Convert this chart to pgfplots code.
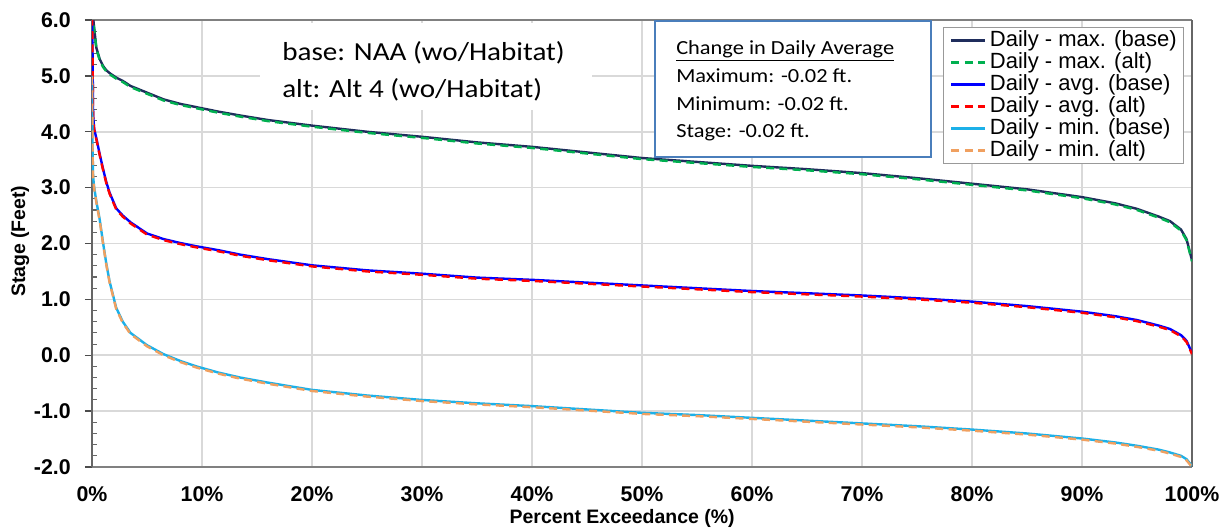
\documentclass[border=0pt]{standalone}
\usepackage{pgfplots}
\pgfplotsset{compat=1.18}
\usepackage{pgfplotstable}
\usepackage{fontspec}
\setmainfont{Liberation Sans}
\newfontfamily\calfont[FakeStretch=1.12]{Carlito}

\definecolor{maxb}{HTML}{1F2D5C}
\definecolor{maxa}{HTML}{00B050}
\definecolor{avgb}{HTML}{0000FF}
\definecolor{avga}{HTML}{FF0000}
\definecolor{minb}{HTML}{1CB0E8}
\definecolor{mina}{HTML}{F0A060}
\definecolor{boxblue}{HTML}{4A7EBB}

\pgfplotstableread{
x maxb maxa avgb avga minb mina
0 6.40 6.38 6.30 6.28 5.00 4.98
0.05 6.20 6.18 5.40 5.38 3.70 3.68
0.1 6.05 6.03 4.30 4.28 3.20 3.18
0.2 5.85 5.83 4.05 4.03 3.00 2.98
0.4 5.50 5.48 3.88 3.86 2.75 2.73
0.7 5.30 5.28 3.60 3.58 2.43 2.41
1.0 5.18 5.16 3.34 3.32 2.02 2.00
1.3 5.10 5.08 3.10 3.08 1.64 1.62
1.6 5.05 5.03 2.91 2.89 1.32 1.30
2.2 4.97 4.95 2.63 2.61 0.85 0.83
2.8 4.91 4.89 2.50 2.48 0.60 0.58
3.5 4.82 4.80 2.38 2.36 0.40 0.38
5 4.70 4.68 2.18 2.16 0.18 0.16
6.5 4.58 4.56 2.08 2.06 0.02 0.00
8 4.50 4.48 2.01 1.99 -0.10 -0.12
9.5 4.44 4.42 1.95 1.93 -0.20 -0.22
11.5 4.36 4.34 1.88 1.86 -0.31 -0.33
13.5 4.29 4.27 1.80 1.78 -0.40 -0.42
16 4.21 4.19 1.72 1.70 -0.49 -0.51
20 4.11 4.09 1.61 1.59 -0.62 -0.64
25 4.00 3.98 1.52 1.50 -0.72 -0.74
30 3.91 3.89 1.46 1.44 -0.80 -0.82
35 3.81 3.79 1.39 1.37 -0.86 -0.88
40 3.73 3.71 1.35 1.33 -0.91 -0.93
45 3.63 3.61 1.30 1.28 -0.97 -0.99
50 3.53 3.51 1.25 1.23 -1.03 -1.05
55 3.46 3.44 1.20 1.18 -1.07 -1.09
60 3.39 3.37 1.15 1.13 -1.12 -1.14
65 3.33 3.31 1.11 1.09 -1.17 -1.19
70 3.26 3.24 1.07 1.05 -1.22 -1.24
75 3.17 3.15 1.02 1.00 -1.27 -1.29
80 3.07 3.05 0.96 0.94 -1.33 -1.35
85 2.97 2.95 0.88 0.86 -1.40 -1.42
90 2.83 2.81 0.78 0.76 -1.49 -1.51
93 2.72 2.70 0.70 0.68 -1.56 -1.58
95 2.62 2.60 0.63 0.61 -1.62 -1.64
97 2.48 2.46 0.53 0.51 -1.69 -1.71
98 2.40 2.38 0.47 0.45 -1.74 -1.76
99 2.25 2.23 0.36 0.34 -1.80 -1.82
99.5 2.08 2.06 0.26 0.24 -1.86 -1.88
100 1.70 1.68 0.04 0.02 -1.98 -2.00
}\data

\begin{document}
\begin{tikzpicture}
\begin{axis}[
  at={(0,0)}, anchor=south west,
  scale only axis, width=825pt, height=335.25pt,
  xmin=0, xmax=100, ymin=-2, ymax=6,
  xtick={0,10,...,100},
  xticklabels={0\%,10\%,20\%,30\%,40\%,50\%,60\%,70\%,80\%,90\%,100\%},
  ytick={-2,-1,...,6},
  yticklabels={-2.0,-1.0,0.0,1.0,2.0,3.0,4.0,5.0,6.0},
  minor y tick num=4,
  grid=major,
  major grid style={draw=black!15, line width=1.2pt},
  separate axis lines,
  x axis line style={draw=black!50, line width=1.8pt},
  y axis line style={draw=black!60, line width=1.5pt},
  tick align=inside, ytick pos=left, xtick pos=bottom,
  xtick style={draw=none},
  major tick length=5.25pt, minor tick length=3.75pt,
  major y tick style={xshift=-5.25pt, draw=black!70, line width=1pt},
  minor y tick style={draw=black!60, line width=0.8pt},
  tick label style={font=\fontsize{16}{16}\selectfont\bfseries},
  yticklabel style={inner sep=0pt, anchor=east, xshift=-15.75pt},
  xticklabel style={inner sep=0pt, anchor=north, yshift=-14.8pt},
  xlabel={Percent Exceedance (\%)},
  ylabel={Stage (Feet)},
  label style={font=\fontsize{14.6}{14.6}\selectfont\bfseries},
  xlabel style={at={(axis description cs:0.482,0)}, anchor=base, yshift=-42pt},
  ylabel style={at={(axis description cs:-0.0609,0.505)}, anchor=base},
  no markers,
  legend style={at={(axis description cs:0.7736,0.9843)}, anchor=north west,
    draw=black!40, line width=0.9pt, fill=white,
    inner xsep=5pt, inner ysep=1.5pt,
    font=\fontsize{16.5}{16.5}\selectfont,
    nodes={inner sep=0pt, text height=12.5pt, text depth=4pt},
    row sep=0pt},
  legend cell align=left,
  legend image code/.code={\draw[#1] (0pt,0pt) -- (25pt,0pt); \path (28pt,0pt);},
]
\addplot[maxb, line width=1.8pt] table[x=x,y=maxb]{\data};
\addlegendentry{Daily - max. (base)}
\addplot[maxa, line width=1.8pt, dash pattern=on 6pt off 4pt] table[x=x,y=maxa]{\data};
\addlegendentry{Daily - max. (alt)}
\addplot[avgb, line width=1.8pt] table[x=x,y=avgb]{\data};
\addlegendentry{Daily - avg. (base)}
\addplot[avga, line width=1.8pt, dash pattern=on 6pt off 4pt] table[x=x,y=avga]{\data};
\addlegendentry{Daily - avg. (alt)}
\addplot[minb, line width=1.8pt] table[x=x,y=minb]{\data};
\addlegendentry{Daily - min. (base)}
\addplot[mina, line width=1.8pt, dash pattern=on 6pt off 4pt] table[x=x,y=mina]{\data};
\addlegendentry{Daily - min. (alt)}
\end{axis}
\begin{scope}[shift={(-69pt,350.25pt)}, x=0.75pt, y=-0.75pt]
  \fill[white] (260,23) rectangle (592,110);
  \draw[boxblue, line width=1.1pt, fill=white] (655,21) rectangle (931,157);
  \node[anchor=base west, inner sep=0pt] at (676,55) {\calfont\fontsize{15}{15}\selectfont\underline{Change in Daily Average}};
  \node[anchor=base west, inner sep=0pt] at (676,83) {\calfont\fontsize{15}{15}\selectfont Maximum: -0.02 ft.};
  \node[anchor=base west, inner sep=0pt] at (676,111) {\calfont\fontsize{15}{15}\selectfont Minimum: -0.02 ft.};
  \node[anchor=base west, inner sep=0pt] at (676,138) {\calfont\fontsize{15}{15}\selectfont Stage: -0.02 ft.};
  \node[anchor=base west, inner sep=0pt] at (282,61) {\calfont\fontsize{19.5}{19.5}\selectfont base: NAA (wo/Habitat)};
  \node[anchor=base west, inner sep=0pt] at (282,98) {\calfont\fontsize{19.5}{19.5}\selectfont alt: Alt 4 (wo/Habitat)};
\end{scope}
\pgfresetboundingbox
\useasboundingbox (-69pt,-46.5pt) rectangle (852pt,350.25pt);
\end{tikzpicture}
\end{document}
